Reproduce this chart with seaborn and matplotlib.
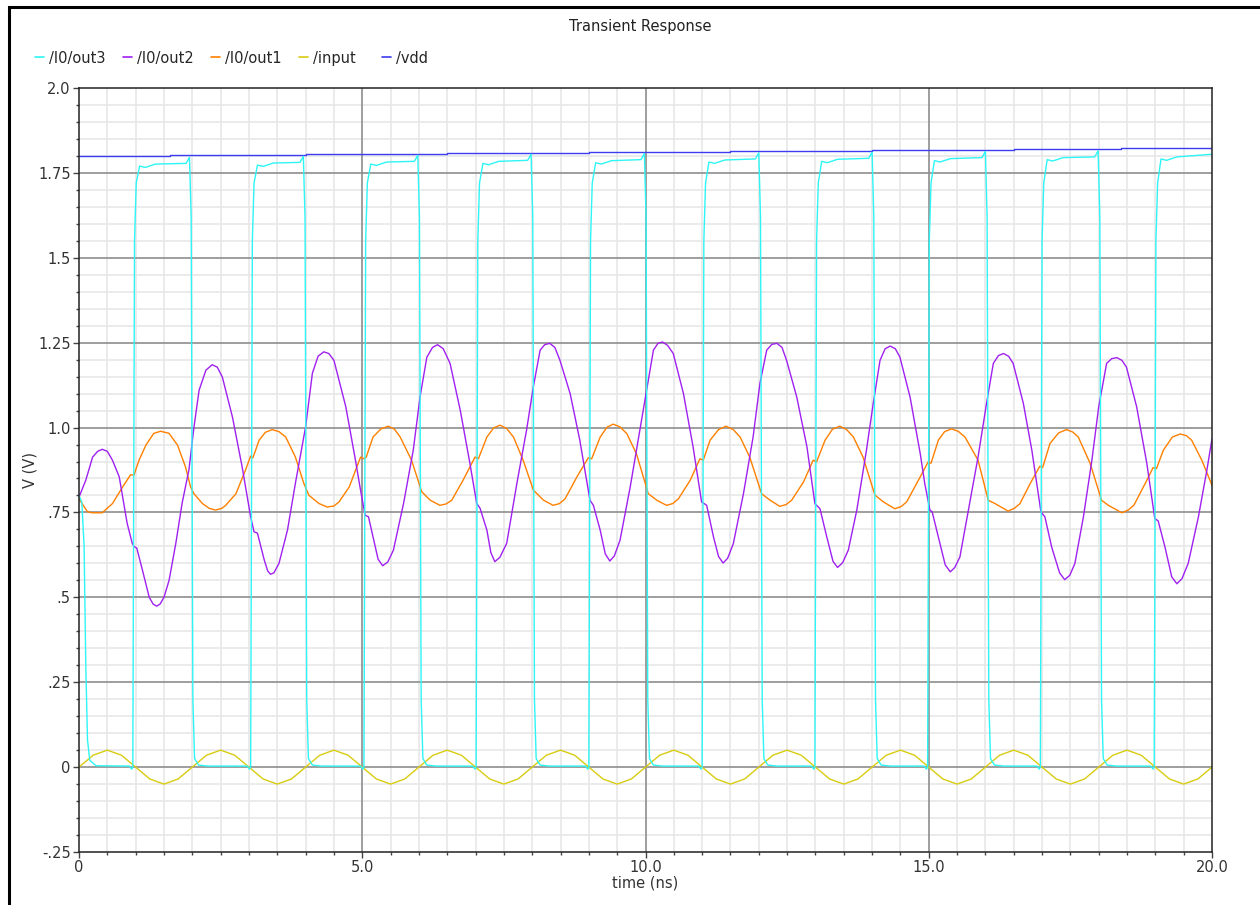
import matplotlib
matplotlib.use("Agg")
import matplotlib.pyplot as plt
from matplotlib.lines import Line2D
from matplotlib.patches import Rectangle
from matplotlib.ticker import MultipleLocator
import seaborn as sns

# ---- data (time in ns, volts) ----
out2_t = [0.00, 0.12, 0.24, 0.33, 0.41, 0.50, 0.59, 0.71, 0.77, 0.85, 0.94, 0.97, 1.02, 1.12, 1.24, 1.31,
          1.37, 1.43, 1.50, 1.59, 1.71, 1.82, 1.94, 2.03, 2.12, 2.24, 2.35, 2.44, 2.53, 2.71, 2.88, 3.03,
          3.09, 3.15, 3.27, 3.33, 3.38, 3.44, 3.53, 3.68, 3.82, 4.00, 4.12, 4.22, 4.32, 4.41, 4.50, 4.71,
          4.88, 4.96, 5.05, 5.11, 5.19, 5.28, 5.36, 5.45, 5.55, 5.73, 5.90, 6.02, 6.14, 6.24, 6.33, 6.43,
          6.55, 6.73, 6.90, 7.02, 7.08, 7.20, 7.27, 7.34, 7.43, 7.55, 7.73, 7.90, 8.02, 8.14, 8.22, 8.31,
          8.40, 8.49, 8.67, 8.84, 9.02, 9.08, 9.20, 9.29, 9.37, 9.45, 9.55, 9.73, 9.90, 10.05, 10.14, 10.22,
          10.30, 10.39, 10.49, 10.67, 10.84, 10.99, 11.08, 11.20, 11.29, 11.37, 11.45, 11.55, 11.73, 11.90, 12.02, 12.14,
          12.23, 12.32, 12.41, 12.49, 12.67, 12.85, 12.99, 13.08, 13.20, 13.31, 13.39, 13.48, 13.58, 13.73, 13.90, 14.02,
          14.14, 14.23, 14.32, 14.41, 14.49, 14.67, 14.85, 14.93, 15.02, 15.06, 15.17, 15.29, 15.38, 15.46, 15.55, 15.70,
          15.87, 16.02, 16.14, 16.23, 16.32, 16.41, 16.49, 16.67, 16.82, 16.98, 17.05, 17.17, 17.31, 17.40, 17.49, 17.58,
          17.73, 17.88, 18.00, 18.14, 18.23, 18.32, 18.41, 18.49, 18.67, 18.85, 18.99, 19.05, 19.17, 19.29, 19.38, 19.47,
          19.58, 19.76, 19.91, 20.00]
out2_v = [0.795, 0.845, 0.913, 0.930, 0.936, 0.930, 0.904, 0.855, 0.796, 0.718, 0.659, 0.650, 0.645, 0.580, 0.500, 0.480,
          0.474, 0.480, 0.500, 0.550, 0.660, 0.777, 0.875, 1.002, 1.110, 1.169, 1.185, 1.178, 1.149, 1.030, 0.884, 0.737,
          0.693, 0.689, 0.610, 0.578, 0.568, 0.572, 0.600, 0.698, 0.836, 1.002, 1.160, 1.210, 1.223, 1.218, 1.198, 1.061,
          0.904, 0.825, 0.742, 0.737, 0.678, 0.612, 0.593, 0.604, 0.639, 0.777, 0.933, 1.090, 1.207, 1.236, 1.244, 1.232,
          1.189, 1.051, 0.895, 0.777, 0.762, 0.698, 0.632, 0.605, 0.618, 0.659, 0.836, 0.992, 1.120, 1.228, 1.244, 1.248,
          1.236, 1.198, 1.100, 0.963, 0.786, 0.771, 0.698, 0.628, 0.607, 0.622, 0.668, 0.825, 0.992, 1.140, 1.228, 1.248,
          1.252, 1.242, 1.218, 1.100, 0.943, 0.781, 0.771, 0.678, 0.620, 0.601, 0.615, 0.658, 0.806, 0.973, 1.130, 1.228,
          1.245, 1.248, 1.236, 1.198, 1.090, 0.943, 0.776, 0.761, 0.678, 0.606, 0.588, 0.602, 0.639, 0.757, 0.933, 1.071,
          1.198, 1.232, 1.240, 1.232, 1.208, 1.090, 0.923, 0.835, 0.757, 0.752, 0.678, 0.596, 0.575, 0.588, 0.619, 0.757,
          0.913, 1.071, 1.189, 1.212, 1.218, 1.210, 1.189, 1.071, 0.933, 0.752, 0.737, 0.648, 0.572, 0.552, 0.565, 0.600,
          0.737, 0.904, 1.061, 1.189, 1.203, 1.206, 1.198, 1.178, 1.061, 0.894, 0.732, 0.725, 0.648, 0.560, 0.540, 0.555,
          0.600, 0.737, 0.875, 0.967]

out1_t = [0.00, 0.15, 0.23, 0.41, 0.59, 0.77, 0.91, 0.97, 1.06, 1.18, 1.32, 1.44, 1.59, 1.74, 1.88, 1.97,
          2.03, 2.18, 2.30, 2.41, 2.52, 2.59, 2.77, 2.94, 3.03, 3.07, 3.18, 3.29, 3.41, 3.53, 3.65, 3.82,
          3.97, 4.06, 4.24, 4.38, 4.50, 4.59, 4.77, 4.97, 5.03, 5.07, 5.19, 5.33, 5.46, 5.57, 5.67, 5.87,
          6.05, 6.20, 6.37, 6.48, 6.58, 6.78, 6.99, 7.05, 7.20, 7.32, 7.43, 7.55, 7.67, 7.84, 8.02, 8.20,
          8.37, 8.48, 8.58, 8.79, 8.99, 9.05, 9.20, 9.32, 9.43, 9.55, 9.67, 9.84, 10.05, 10.20, 10.37, 10.48,
          10.58, 10.79, 10.96, 11.02, 11.14, 11.29, 11.42, 11.55, 11.67, 11.84, 12.05, 12.20, 12.37, 12.48, 12.58, 12.79,
          12.96, 13.02, 13.17, 13.30, 13.43, 13.55, 13.67, 13.84, 14.05, 14.20, 14.40, 14.51, 14.61, 14.85, 14.99, 15.04,
          15.17, 15.28, 15.40, 15.52, 15.64, 15.87, 16.05, 16.17, 16.40, 16.51, 16.61, 16.79, 16.96, 17.01, 17.14, 17.29,
          17.43, 17.54, 17.64, 17.85, 18.05, 18.17, 18.41, 18.52, 18.62, 18.82, 18.96, 19.02, 19.14, 19.30, 19.44, 19.55,
          19.64, 19.82, 20.00]
out1_v = [0.790, 0.752, 0.749, 0.749, 0.776, 0.825, 0.861, 0.860, 0.904, 0.948, 0.983, 0.989, 0.983, 0.948, 0.884, 0.825,
          0.805, 0.776, 0.762, 0.757, 0.762, 0.771, 0.805, 0.875, 0.916, 0.911, 0.963, 0.986, 0.994, 0.988, 0.972, 0.913,
          0.835, 0.800, 0.776, 0.766, 0.769, 0.781, 0.825, 0.913, 0.908, 0.913, 0.972, 0.996, 1.004, 0.995, 0.972, 0.904,
          0.811, 0.786, 0.771, 0.775, 0.786, 0.845, 0.913, 0.908, 0.972, 0.999, 1.007, 0.997, 0.972, 0.904, 0.816, 0.786,
          0.771, 0.776, 0.790, 0.855, 0.911, 0.908, 0.972, 1.001, 1.010, 1.002, 0.982, 0.923, 0.805, 0.786, 0.771, 0.776,
          0.790, 0.845, 0.908, 0.904, 0.963, 0.994, 1.004, 0.994, 0.972, 0.913, 0.805, 0.786, 0.768, 0.773, 0.786, 0.840,
          0.904, 0.899, 0.963, 0.995, 1.004, 0.994, 0.972, 0.913, 0.801, 0.781, 0.761, 0.767, 0.781, 0.855, 0.899, 0.895,
          0.963, 0.988, 0.996, 0.989, 0.972, 0.904, 0.786, 0.776, 0.754, 0.762, 0.776, 0.835, 0.886, 0.882, 0.953, 0.984,
          0.994, 0.987, 0.972, 0.894, 0.786, 0.771, 0.749, 0.757, 0.771, 0.835, 0.882, 0.879, 0.933, 0.972, 0.981, 0.976,
          0.963, 0.904, 0.830]

# input: sampled every 0.25 ns
input_t = [i * 0.25 for i in range(81)]
input_v = [0.0, 0.035, 0.05, 0.035, 0.0, -0.035, -0.05, -0.035] * 10 + [0.0]

# vdd: slow staircase
vdd_t = [0.0, 1.6, 4.0, 6.5, 9.0, 11.5, 14.0, 16.5, 18.4, 20.0]
vdd_v = [1.800, 1.803, 1.806, 1.809, 1.812, 1.815, 1.818, 1.821, 1.824, 1.825]

# out3: square wave, edges and plateau levels
out3_t0 = [0.00, 0.05, 0.09, 0.12, 0.15, 0.19, 0.30]
out3_v0 = [0.80, 0.78, 0.65, 0.30, 0.08, 0.02, 0.004]
out3_rise = [0.95, 3.03, 5.03, 7.01, 9.00, 11.00, 12.99, 14.98, 16.97, 18.98]
out3_fall = [1.97, 3.98, 6.00, 8.00, 10.00, 12.02, 14.02, 16.02, 18.01]
out3_high_start = [1.770, 1.773, 1.776, 1.778, 1.780, 1.782, 1.784, 1.786, 1.789, 1.791]
out3_high_end = [1.778, 1.781, 1.784, 1.787, 1.789, 1.791, 1.793, 1.795, 1.797, 1.805]

signals = ["/I0/out3", "/I0/out2", "/I0/out1", "/input", "/vdd"]
colors = {"/I0/out3": "#2ef5f5", "/I0/out2": "#a020f0", "/I0/out1": "#ff8000",
          "/input": "#d8cc10", "/vdd": "#3c3cf0"}

xtick_vals = [0, 5, 10, 15, 20]
xtick_labels = ["0", "5.0", "10.0", "15.0", "20.0"]
ytick_vals = [-0.25, 0, 0.25, 0.5, 0.75, 1.0, 1.25, 1.5, 1.75, 2.0]
ytick_labels = ["-.25", "0", ".25", ".5", ".75", "1.0", "1.25", "1.5", "1.75", "2.0"]


def build_out3():
    t, v = list(out3_t0), list(out3_v0)
    for i, r in enumerate(out3_rise):
        hs, he = out3_high_start[i], out3_high_end[i]
        t += [r - 0.06, r - 0.02, r, r + 0.03, r + 0.06, r + 0.12, r + 0.22, r + 0.40]
        v += [0.003, -0.006, 0.0, 1.55, 1.72, hs, hs - 0.004, hs + 0.006]
        if i < len(out3_fall):
            f = out3_fall[i]
            t += [f - 0.08, f - 0.02, f + 0.01, f + 0.04, f + 0.07, f + 0.14, f + 0.30]
            v += [he, he + 0.018, 1.62, 0.20, 0.025, 0.006, 0.003]
        else:
            t += [20.0]
            v += [he]
    return t, v


out3_t, out3_v = build_out3()

sns.set_style("white")
plt.rcParams["font.family"] = ["DejaVu Sans"]

fig = plt.figure(figsize=(12.6, 9.05), dpi=100)
ax = fig.add_axes([79 / 1260, 53 / 905, 1133 / 1260, 764 / 905])

lw = 1.0
sns.lineplot(x=vdd_t, y=vdd_v, ax=ax, color=colors["/vdd"], lw=lw, drawstyle="steps-post",
             estimator=None, sort=False)
sns.lineplot(x=out1_t, y=out1_v, ax=ax, color=colors["/I0/out1"], lw=lw, estimator=None, sort=False)
sns.lineplot(x=out2_t, y=out2_v, ax=ax, color=colors["/I0/out2"], lw=lw, estimator=None, sort=False)
sns.lineplot(x=input_t, y=input_v, ax=ax, color=colors["/input"], lw=lw, estimator=None, sort=False)
sns.lineplot(x=out3_t, y=out3_v, ax=ax, color=colors["/I0/out3"], lw=lw, estimator=None, sort=False)

ax.set_xlim(0, 20)
ax.set_ylim(-0.25, 2.0)
ax.set_xticks(xtick_vals, xtick_labels)
ax.set_yticks(ytick_vals, ytick_labels)
ax.xaxis.set_minor_locator(MultipleLocator(0.5))
ax.yaxis.set_minor_locator(MultipleLocator(0.05))

# light minor grid, then the darker major lines on top of it
ax.grid(which="minor", color="#e6e6e6", lw=1.1)
ax.grid(which="major", visible=False)
ax.vlines(xtick_vals[1:-1], -0.25, 2.0, color="#8e8e8e", lw=1.2, zorder=0.8)
ax.hlines(ytick_vals[1:-1], 0, 20, color="#8e8e8e", lw=1.2, zorder=0.8)
ax.set_axisbelow(True)

ax.tick_params(which="major", direction="out", length=4.5, width=1, color="#444",
               labelsize=10.5, labelcolor="#333", pad=1.5, left=True, bottom=True)
ax.tick_params(which="minor", direction="out", length=2.2, width=1, color="#444",
               left=True, bottom=True)
for s in ax.spines.values():
    s.set_color("#222")
    s.set_linewidth(1.1)

ax.set_xlabel("time (ns)", fontsize=10.5, color="#333")
ax.set_ylabel("V (V)", fontsize=10.5, color="#333")
ax.xaxis.set_label_coords(0.5, -0.031)
ax.yaxis.set_label_coords(-0.037, 0.5)

fig.text(640 / 1260, 1 - 26 / 905, "Transient Response", ha="center", va="center",
         fontsize=10.5, color="#222")

handles = [Line2D([], [], color=colors[s], lw=1.2) for s in signals]
labels = ["/I0/out3", "/I0/out2", "/I0/out1", "/input  ", "/vdd"]
fig.legend(handles, labels, loc="center left", bbox_to_anchor=(35 / 1260, 1 - 58 / 905),
           ncol=5, frameon=False, fontsize=10.5, handlelength=0.6, handletextpad=0.35,
           columnspacing=1.2, borderpad=0, borderaxespad=0)

# window frame (left and top edge)
fig.add_artist(Rectangle((9 / 1260, -0.1), 2.0, 1.1 - 7 / 905, transform=fig.transFigure,
                         fill=False, ec="black", lw=2.2))

fig.savefig("out.png", dpi=100)
